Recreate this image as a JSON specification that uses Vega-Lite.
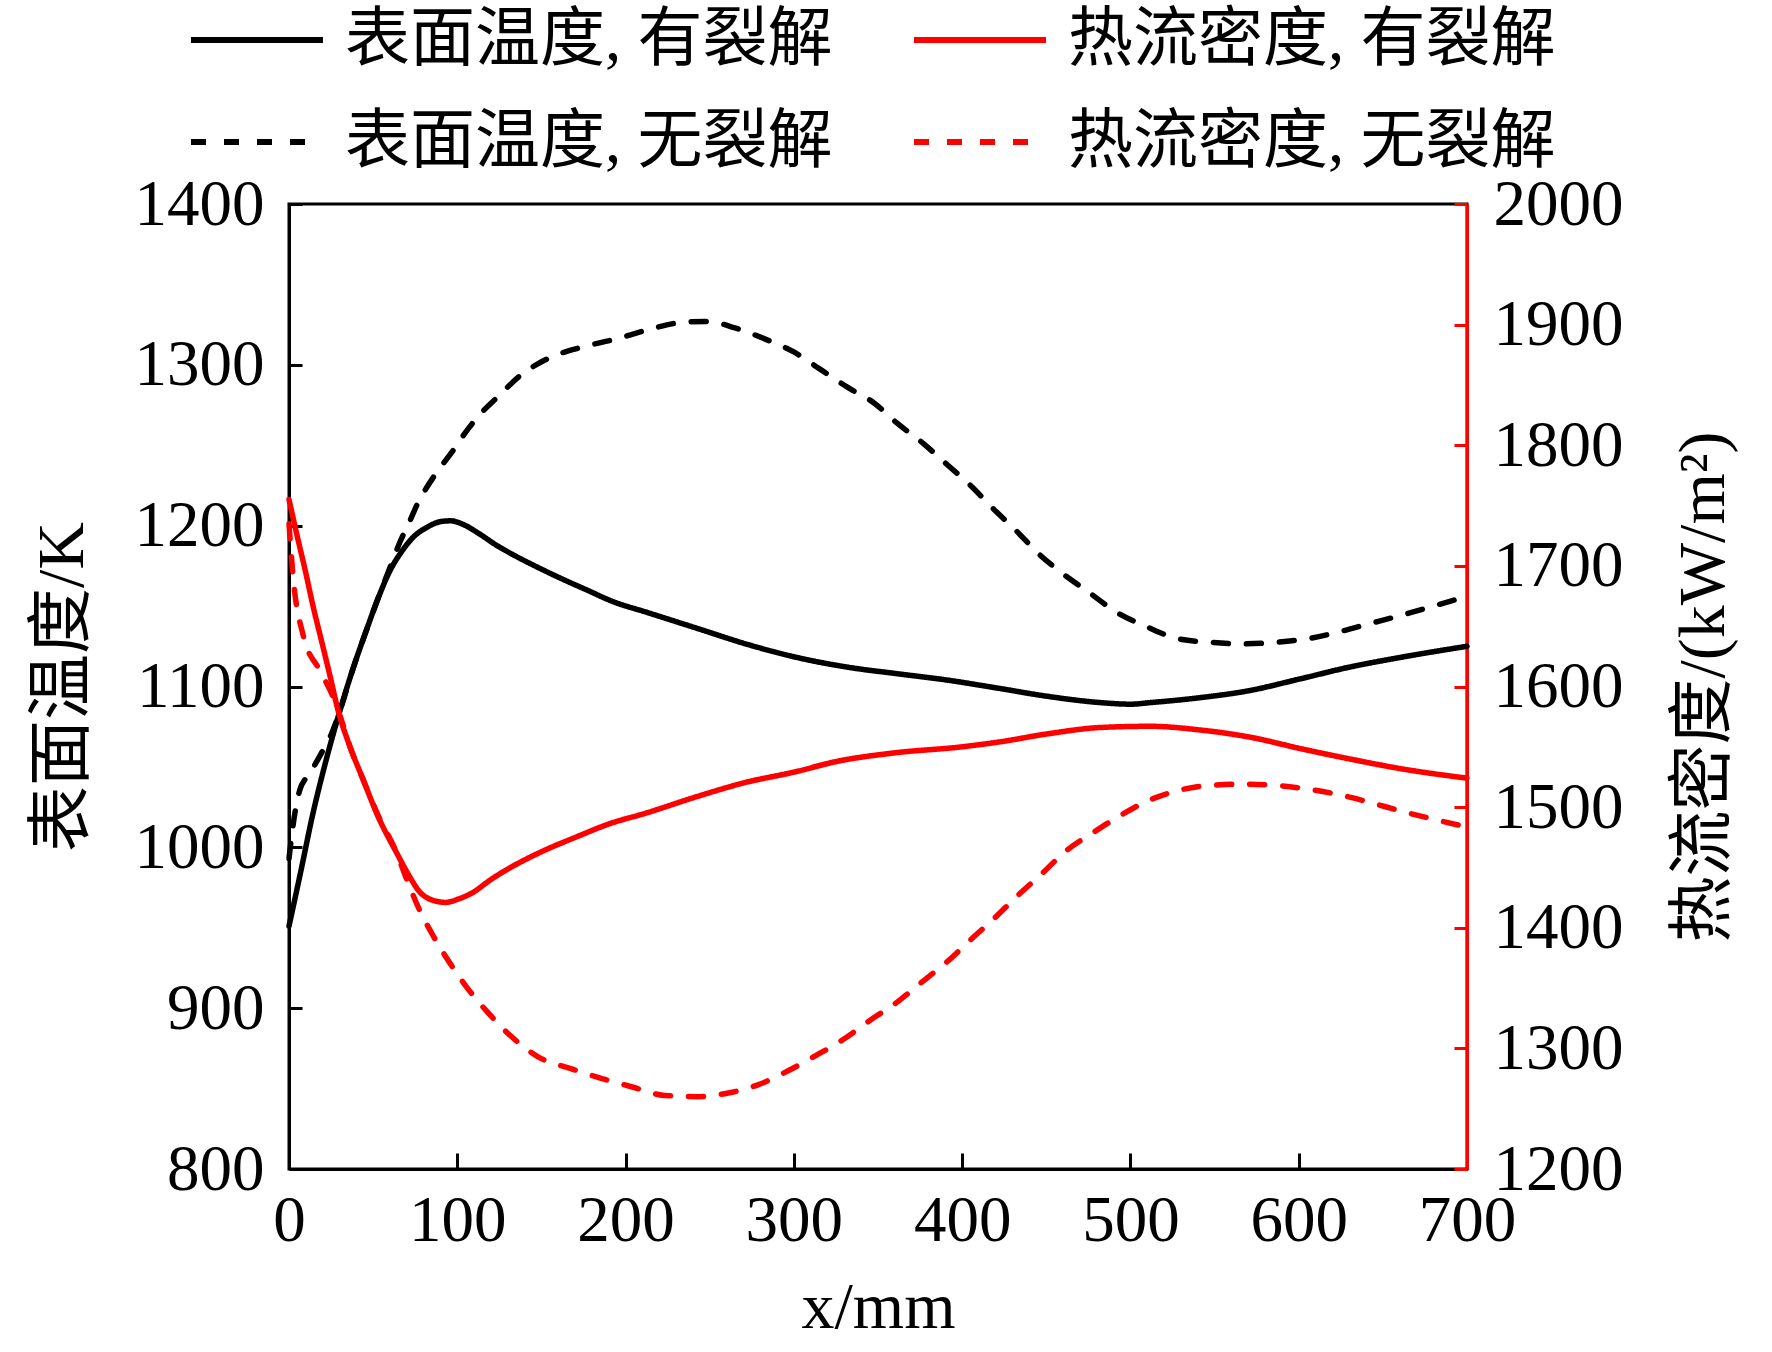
{
  "$schema": "https://vega.github.io/schema/vega-lite/v6.json",
  "width": 1178,
  "height": 965,
  "autosize": {"type": "none"},
  "padding": {"left": 289, "top": 204, "right": 305, "bottom": 183},
  "background": "white",
  "config": {
    "view": {"stroke": "black", "strokeWidth": 3},
    "font": "Liberation Serif, Noto Sans CJK SC",
    "axis": {
      "grid": false,
      "labelFont": "Liberation Serif",
      "labelFontSize": 65,
      "labelColor": "black",
      "format": "d",
      "titleFont": "Liberation Serif, Noto Sans CJK SC",
      "titleFontSize": 66,
      "titleFontWeight": "normal",
      "titleColor": "black",
      "domainWidth": 3,
      "tickWidth": 3
    }
  },
  "datasets": {
    "temp": [
      {"x": 0, "series": "表面温度, 有裂解", "value": 951},
      {"x": 7, "series": "表面温度, 有裂解", "value": 985},
      {"x": 14, "series": "表面温度, 有裂解", "value": 1020},
      {"x": 22, "series": "表面温度, 有裂解", "value": 1054},
      {"x": 30, "series": "表面温度, 有裂解", "value": 1084},
      {"x": 38, "series": "表面温度, 有裂解", "value": 1111},
      {"x": 46, "series": "表面温度, 有裂解", "value": 1135},
      {"x": 53, "series": "表面温度, 有裂解", "value": 1155},
      {"x": 60, "series": "表面温度, 有裂解", "value": 1172},
      {"x": 67, "series": "表面温度, 有裂解", "value": 1184},
      {"x": 74, "series": "表面温度, 有裂解", "value": 1193},
      {"x": 82, "series": "表面温度, 有裂解", "value": 1199},
      {"x": 90, "series": "表面温度, 有裂解", "value": 1202.5},
      {"x": 96, "series": "表面温度, 有裂解", "value": 1203},
      {"x": 103, "series": "表面温度, 有裂解", "value": 1201},
      {"x": 113, "series": "表面温度, 有裂解", "value": 1195},
      {"x": 123, "series": "表面温度, 有裂解", "value": 1188},
      {"x": 133, "series": "表面温度, 有裂解", "value": 1182},
      {"x": 148, "series": "表面温度, 有裂解", "value": 1174},
      {"x": 162, "series": "表面温度, 有裂解", "value": 1167},
      {"x": 177, "series": "表面温度, 有裂解", "value": 1160},
      {"x": 192, "series": "表面温度, 有裂解", "value": 1153},
      {"x": 213, "series": "表面温度, 有裂解", "value": 1146},
      {"x": 243, "series": "表面温度, 有裂解", "value": 1136},
      {"x": 273, "series": "表面温度, 有裂解", "value": 1126},
      {"x": 302, "series": "表面温度, 有裂解", "value": 1118},
      {"x": 332, "series": "表面温度, 有裂解", "value": 1112},
      {"x": 361, "series": "表面温度, 有裂解", "value": 1108},
      {"x": 391, "series": "表面温度, 有裂解", "value": 1104},
      {"x": 421, "series": "表面温度, 有裂解", "value": 1099},
      {"x": 450, "series": "表面温度, 有裂解", "value": 1094},
      {"x": 482, "series": "表面温度, 有裂解", "value": 1090},
      {"x": 500, "series": "表面温度, 有裂解", "value": 1089},
      {"x": 512, "series": "表面温度, 有裂解", "value": 1090},
      {"x": 541, "series": "表面温度, 有裂解", "value": 1093},
      {"x": 571, "series": "表面温度, 有裂解", "value": 1097.5},
      {"x": 600, "series": "表面温度, 有裂解", "value": 1104.5},
      {"x": 630, "series": "表面温度, 有裂解", "value": 1112},
      {"x": 660, "series": "表面温度, 有裂解", "value": 1118},
      {"x": 700, "series": "表面温度, 有裂解", "value": 1125},
      {"x": 0, "series": "表面温度, 无裂解", "value": 993},
      {"x": 3, "series": "表面温度, 无裂解", "value": 1018},
      {"x": 6.5, "series": "表面温度, 无裂解", "value": 1036},
      {"x": 10, "series": "表面温度, 无裂解", "value": 1043},
      {"x": 14, "series": "表面温度, 无裂解", "value": 1049},
      {"x": 20, "series": "表面温度, 无裂解", "value": 1060},
      {"x": 25, "series": "表面温度, 无裂解", "value": 1070},
      {"x": 30, "series": "表面温度, 无裂解", "value": 1084},
      {"x": 38, "series": "表面温度, 无裂解", "value": 1111},
      {"x": 46, "series": "表面温度, 无裂解", "value": 1135},
      {"x": 53, "series": "表面温度, 无裂解", "value": 1155},
      {"x": 60, "series": "表面温度, 无裂解", "value": 1174},
      {"x": 66, "series": "表面温度, 无裂解", "value": 1190},
      {"x": 71, "series": "表面温度, 无裂解", "value": 1201},
      {"x": 77, "series": "表面温度, 无裂解", "value": 1215},
      {"x": 82, "series": "表面温度, 无裂解", "value": 1224},
      {"x": 87, "series": "表面温度, 无裂解", "value": 1232},
      {"x": 97, "series": "表面温度, 无裂解", "value": 1246},
      {"x": 107, "series": "表面温度, 无裂解", "value": 1261},
      {"x": 116, "series": "表面温度, 无裂解", "value": 1272},
      {"x": 124, "series": "表面温度, 无裂解", "value": 1280},
      {"x": 137, "series": "表面温度, 无裂解", "value": 1293},
      {"x": 154, "series": "表面温度, 无裂解", "value": 1304},
      {"x": 174, "series": "表面温度, 无裂解", "value": 1311},
      {"x": 194, "series": "表面温度, 无裂解", "value": 1316},
      {"x": 214, "series": "表面温度, 无裂解", "value": 1322},
      {"x": 231, "series": "表面温度, 无裂解", "value": 1326},
      {"x": 248, "series": "表面温度, 无裂解", "value": 1327},
      {"x": 265, "series": "表面温度, 无裂解", "value": 1323},
      {"x": 283, "series": "表面温度, 无裂解", "value": 1316},
      {"x": 300, "series": "表面温度, 无裂解", "value": 1308},
      {"x": 316, "series": "表面温度, 无裂解", "value": 1297},
      {"x": 332, "series": "表面温度, 无裂解", "value": 1286},
      {"x": 348, "series": "表面温度, 无裂解", "value": 1276},
      {"x": 361, "series": "表面温度, 无裂解", "value": 1264},
      {"x": 377, "series": "表面温度, 无裂解", "value": 1251},
      {"x": 391, "series": "表面温度, 无裂解", "value": 1238},
      {"x": 405, "series": "表面温度, 无裂解", "value": 1225},
      {"x": 419, "series": "表面温度, 无裂解", "value": 1210},
      {"x": 432, "series": "表面温度, 无裂解", "value": 1197},
      {"x": 446, "series": "表面温度, 无裂解", "value": 1182},
      {"x": 460, "series": "表面温度, 无裂解", "value": 1170},
      {"x": 476, "series": "表面温度, 无裂解", "value": 1158},
      {"x": 492, "series": "表面温度, 无裂解", "value": 1146},
      {"x": 510, "series": "表面温度, 无裂解", "value": 1137},
      {"x": 527, "series": "表面温度, 无裂解", "value": 1130},
      {"x": 547, "series": "表面温度, 无裂解", "value": 1127.5},
      {"x": 567, "series": "表面温度, 无裂解", "value": 1126.5},
      {"x": 587, "series": "表面温度, 无裂解", "value": 1127.5},
      {"x": 607, "series": "表面温度, 无裂解", "value": 1130},
      {"x": 624, "series": "表面温度, 无裂解", "value": 1134},
      {"x": 642, "series": "表面温度, 无裂解", "value": 1139},
      {"x": 660, "series": "表面温度, 无裂解", "value": 1144},
      {"x": 680, "series": "表面温度, 无裂解", "value": 1150},
      {"x": 700, "series": "表面温度, 无裂解", "value": 1156}
    ],
    "flux": [
      {"x": 0, "series": "热流密度, 有裂解", "value": 1755},
      {"x": 5, "series": "热流密度, 有裂解", "value": 1724},
      {"x": 10, "series": "热流密度, 有裂解", "value": 1694},
      {"x": 14.4, "series": "热流密度, 有裂解", "value": 1666},
      {"x": 20, "series": "热流密度, 有裂解", "value": 1634},
      {"x": 25, "series": "热流密度, 有裂解", "value": 1605},
      {"x": 29, "series": "热流密度, 有裂解", "value": 1581},
      {"x": 36, "series": "热流密度, 有裂解", "value": 1551},
      {"x": 44, "series": "热流密度, 有裂解", "value": 1523},
      {"x": 53, "series": "热流密度, 有裂解", "value": 1492},
      {"x": 64, "series": "热流密度, 有裂解", "value": 1462},
      {"x": 71, "series": "热流密度, 有裂解", "value": 1444},
      {"x": 77.5, "series": "热流密度, 有裂解", "value": 1430},
      {"x": 85, "series": "热流密度, 有裂解", "value": 1423},
      {"x": 93, "series": "热流密度, 有裂解", "value": 1421},
      {"x": 101, "series": "热流密度, 有裂解", "value": 1424},
      {"x": 109, "series": "热流密度, 有裂解", "value": 1429},
      {"x": 120, "series": "热流密度, 有裂解", "value": 1440},
      {"x": 133, "series": "热流密度, 有裂解", "value": 1451},
      {"x": 150, "series": "热流密度, 有裂解", "value": 1463},
      {"x": 172, "series": "热流密度, 有裂解", "value": 1476},
      {"x": 190, "series": "热流密度, 有裂解", "value": 1486},
      {"x": 212, "series": "热流密度, 有裂解", "value": 1495},
      {"x": 243, "series": "热流密度, 有裂解", "value": 1509},
      {"x": 270, "series": "热流密度, 有裂解", "value": 1520},
      {"x": 300, "series": "热流密度, 有裂解", "value": 1529},
      {"x": 326, "series": "热流密度, 有裂解", "value": 1538},
      {"x": 360, "series": "热流密度, 有裂解", "value": 1545},
      {"x": 400, "series": "热流密度, 有裂解", "value": 1550},
      {"x": 422, "series": "热流密度, 有裂解", "value": 1554},
      {"x": 452, "series": "热流密度, 有裂解", "value": 1561},
      {"x": 482, "series": "热流密度, 有裂解", "value": 1566},
      {"x": 512, "series": "热流密度, 有裂解", "value": 1567},
      {"x": 541, "series": "热流密度, 有裂解", "value": 1564},
      {"x": 571, "series": "热流密度, 有裂解", "value": 1558},
      {"x": 601, "series": "热流密度, 有裂解", "value": 1548.5},
      {"x": 630, "series": "热流密度, 有裂解", "value": 1540},
      {"x": 660, "series": "热流密度, 有裂解", "value": 1532},
      {"x": 700, "series": "热流密度, 有裂解", "value": 1524},
      {"x": 0, "series": "热流密度, 无裂解", "value": 1735},
      {"x": 2.5, "series": "热流密度, 无裂解", "value": 1690},
      {"x": 8.5, "series": "热流密度, 无裂解", "value": 1642},
      {"x": 18, "series": "热流密度, 无裂解", "value": 1614},
      {"x": 26, "series": "热流密度, 无裂解", "value": 1592},
      {"x": 30, "series": "热流密度, 无裂解", "value": 1577},
      {"x": 36, "series": "热流密度, 无裂解", "value": 1551},
      {"x": 44, "series": "热流密度, 无裂解", "value": 1523},
      {"x": 53, "series": "热流密度, 无裂解", "value": 1493},
      {"x": 64, "series": "热流密度, 无裂解", "value": 1462},
      {"x": 70, "series": "热流密度, 无裂解", "value": 1440},
      {"x": 77.8, "series": "热流密度, 无裂解", "value": 1414},
      {"x": 85, "series": "热流密度, 无裂解", "value": 1395},
      {"x": 95, "series": "热流密度, 无裂解", "value": 1372},
      {"x": 106, "series": "热流密度, 无裂解", "value": 1350},
      {"x": 118, "series": "热流密度, 无裂解", "value": 1330},
      {"x": 132, "series": "热流密度, 无裂解", "value": 1310},
      {"x": 148, "series": "热流密度, 无裂解", "value": 1293},
      {"x": 168, "series": "热流密度, 无裂解", "value": 1283},
      {"x": 186, "series": "热流密度, 无裂解", "value": 1275},
      {"x": 204, "series": "热流密度, 无裂解", "value": 1268},
      {"x": 223, "series": "热流密度, 无裂解", "value": 1261},
      {"x": 243, "series": "热流密度, 无裂解", "value": 1260},
      {"x": 261, "series": "热流密度, 无裂解", "value": 1263},
      {"x": 279, "series": "热流密度, 无裂解", "value": 1270},
      {"x": 296, "series": "热流密度, 无裂解", "value": 1281},
      {"x": 313, "series": "热流密度, 无裂解", "value": 1294},
      {"x": 330, "series": "热流密度, 无裂解", "value": 1308},
      {"x": 345, "series": "热流密度, 无裂解", "value": 1323},
      {"x": 362, "series": "热流密度, 无裂解", "value": 1339},
      {"x": 377, "series": "热流密度, 无裂解", "value": 1356},
      {"x": 392, "series": "热流密度, 无裂解", "value": 1373},
      {"x": 405, "series": "热流密度, 无裂解", "value": 1390},
      {"x": 420, "series": "热流密度, 无裂解", "value": 1409},
      {"x": 434, "series": "热流密度, 无裂解", "value": 1428},
      {"x": 446, "series": "热流密度, 无裂解", "value": 1443},
      {"x": 462, "series": "热流密度, 无裂解", "value": 1464},
      {"x": 478, "series": "热流密度, 无裂解", "value": 1479},
      {"x": 494, "series": "热流密度, 无裂解", "value": 1493},
      {"x": 510, "series": "热流密度, 无裂解", "value": 1505},
      {"x": 529, "series": "热流密度, 无裂解", "value": 1514},
      {"x": 547, "series": "热流密度, 无裂解", "value": 1518},
      {"x": 567, "series": "热流密度, 无裂解", "value": 1519},
      {"x": 587, "series": "热流密度, 无裂解", "value": 1518},
      {"x": 605, "series": "热流密度, 无裂解", "value": 1515},
      {"x": 625, "series": "热流密度, 无裂解", "value": 1510},
      {"x": 642, "series": "热流密度, 无裂解", "value": 1504},
      {"x": 660, "series": "热流密度, 无裂解", "value": 1497},
      {"x": 680, "series": "热流密度, 无裂解", "value": 1490},
      {"x": 700, "series": "热流密度, 无裂解", "value": 1483.5}
    ]
  },
  "encoding": {
    "x": {
      "field": "x",
      "type": "quantitative",
      "scale": {"domain": [0, 700], "nice": false, "zero": false},
      "axis": {
        "title": "x/mm",
        "values": [0, 100, 200, 300, 400, 500, 600, 700],
        "domainColor": "black",
        "tickColor": "black",
        "tickSize": -16,
        "labelPadding": 36,
        "labelFlush": false,
        "titlePadding": 22
      }
    },
    "color": {
      "field": "series",
      "type": "nominal",
      "scale": {
        "domain": ["表面温度, 有裂解", "热流密度, 有裂解", "表面温度, 无裂解", "热流密度, 无裂解"],
        "range": ["#000000", "#ff0000", "#000000", "#ff0000"]
      },
      "legend": {
        "title": null,
        "orient": "none",
        "legendX": -101,
        "legendY": -233,
        "columns": 2,
        "direction": "horizontal",
        "padding": 0,
        "labelFont": "Liberation Serif, Noto Sans CJK SC",
        "labelFontSize": 65,
        "labelColor": "black",
        "labelLimit": 1000,
        "labelOffset": 19,
        "columnPadding": 69,
        "rowPadding": -51,
        "symbolType": "stroke",
        "symbolSize": 17424,
        "symbolStrokeWidth": 6
      }
    },
    "strokeDash": {
      "field": "series",
      "type": "nominal",
      "scale": {
        "domain": ["表面温度, 有裂解", "热流密度, 有裂解", "表面温度, 无裂解", "热流密度, 无裂解"],
        "range": [[1, 0], [1, 0], [15, 18], [15, 18]]
      }
    }
  },
  "layer": [
    {
      "data": {"name": "temp"},
      "mark": {"type": "line", "strokeWidth": 5.5, "strokeCap": "round", "interpolate": "monotone"},
      "encoding": {
        "y": {
          "field": "value",
          "type": "quantitative",
          "scale": {"domain": [800, 1400], "nice": false, "zero": false},
          "axis": {
            "orient": "left",
            "title": "表面温度/K",
            "values": [800, 900, 1000, 1100, 1200, 1300, 1400],
            "domainColor": "black",
            "tickColor": "black",
            "tickSize": -13,
            "labelPadding": 38,
            "titlePadding": 38
          }
        }
      }
    },
    {
      "data": {"name": "flux"},
      "mark": {"type": "line", "strokeWidth": 5.5, "strokeCap": "round", "interpolate": "monotone"},
      "encoding": {
        "y": {
          "field": "value",
          "type": "quantitative",
          "scale": {"domain": [1200, 2000], "nice": false, "zero": false},
          "axis": {
            "orient": "right",
            "title": "热流密度/(kW/m²)",
            "values": [1200, 1300, 1400, 1500, 1600, 1700, 1800, 1900, 2000],
            "domainColor": "#ff0000",
            "tickColor": "#ff0000",
            "tickSize": -13,
            "labelPadding": 39,
            "titleAngle": 270,
            "titlePadding": 114
          }
        }
      }
    }
  ],
  "resolve": {"scale": {"y": "independent"}}
}
